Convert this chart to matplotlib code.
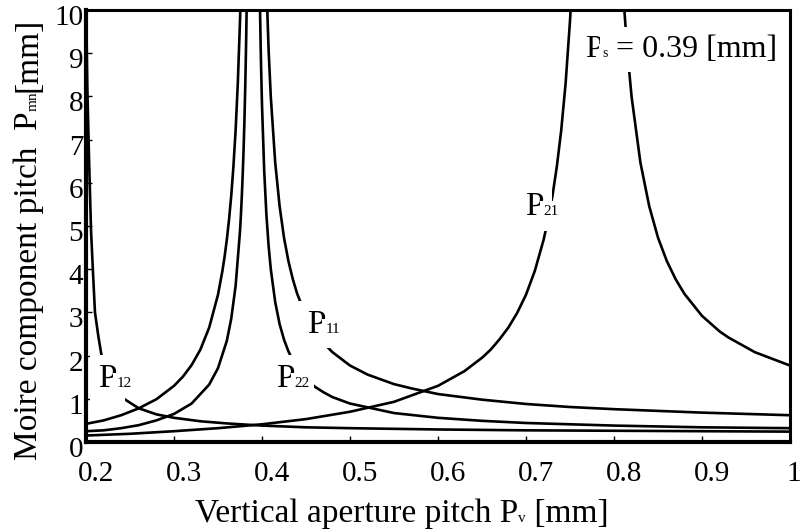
import matplotlib
matplotlib.use("Agg")
import matplotlib.pyplot as plt
from matplotlib.transforms import ScaledTranslation

plt.rcParams['font.family'] = ['Liberation Serif', 'DejaVu Serif']

# ---- data ----
p11_left_x = [0.200, 0.220, 0.240, 0.260, 0.280, 0.300, 0.310, 0.320, 0.330, 0.340, 0.350, 0.355, 0.3575, 0.360,
              0.3625, 0.365, 0.3675, 0.370, 0.3725, 0.375, 0.3757]
p11_left_y = [0.42, 0.50, 0.62, 0.78, 0.99, 1.30, 1.51, 1.78, 2.14, 2.65, 3.41, 3.96, 4.29, 4.68,
              5.14, 5.69, 6.37, 7.21, 8.30, 9.75, 10.25]
p11_right_x = [0.4055, 0.4075, 0.410, 0.415, 0.420, 0.425, 0.430, 0.435, 0.440, 0.450, 0.460, 0.470, 0.480, 0.500,
               0.520, 0.550, 0.570, 0.600, 0.650, 0.700, 0.750, 0.800, 0.850, 0.900, 0.950, 1.000]
p11_right_y = [10.3, 9.08, 7.99, 6.47, 5.46, 4.73, 4.19, 3.77, 3.43, 2.92, 2.56, 2.29, 2.08, 1.77,
               1.56, 1.34, 1.24, 1.11, 0.98, 0.88, 0.81, 0.76, 0.72, 0.68, 0.65, 0.62]

p22_left_x = [0.200, 0.220, 0.240, 0.260, 0.280, 0.300, 0.320, 0.340, 0.350, 0.360, 0.365, 0.370, 0.375, 0.376,
              0.377, 0.378, 0.379, 0.380, 0.381, 0.382, 0.3826]
p22_left_y = [0.25, 0.27, 0.32, 0.39, 0.50, 0.65, 0.89, 1.33, 1.71, 2.34, 2.85, 3.61, 4.88, 5.24,
              5.66, 6.15, 6.72, 7.41, 8.25, 9.30, 10.1]
p22_right_x = [0.3975, 0.3985, 0.399, 0.400, 0.4025, 0.405, 0.4075, 0.410, 0.415, 0.420, 0.425, 0.430, 0.435,
               0.440, 0.450, 0.460, 0.470, 0.480, 0.500, 0.550, 0.600, 0.650, 0.700, 0.750, 0.800, 0.850,
               0.900, 0.950, 1.000]
p22_right_y = [10.3, 9.14, 8.65, 7.80, 6.28, 5.26, 4.54, 4.00, 3.24, 2.73, 2.37, 2.10, 1.89,
               1.72, 1.46, 1.28, 1.15, 1.04, 0.89, 0.67, 0.56, 0.49, 0.44, 0.41, 0.38, 0.36,
               0.34, 0.33, 0.32]

p21_left_x = [0.20, 0.25, 0.30, 0.35, 0.40, 0.45, 0.50, 0.55, 0.60, 0.63, 0.65, 0.66, 0.67, 0.68, 0.69, 0.70,
              0.71, 0.72, 0.725, 0.73, 0.735, 0.74, 0.745, 0.75, 0.752]
p21_left_y = [0.15, 0.19, 0.25, 0.32, 0.41, 0.53, 0.70, 0.93, 1.30, 1.64, 1.95, 2.14, 2.38, 2.65, 2.99, 3.41,
              3.96, 4.68, 5.14, 5.69, 6.37, 7.21, 8.30, 9.75, 10.45]
p21_right_x = [0.810, 0.815, 0.820, 0.830, 0.840, 0.850, 0.860, 0.870, 0.880, 0.900, 0.920, 0.930, 0.960, 1.000]
p21_right_y = [10.5, 9.08, 7.99, 6.47, 5.46, 4.73, 4.19, 3.77, 3.43, 2.92, 2.56, 2.42, 2.08, 1.77]

p12_x = [0.2000, 0.2015, 0.2034, 0.2057, 0.2080, 0.2102, 0.2140, 0.2170, 0.2200, 0.2300, 0.2400, 0.2600, 0.2800,
         0.3000, 0.3300, 0.3600, 0.4000, 0.4500, 0.5000, 0.6000, 0.7000, 0.8000, 0.9000, 1.0000]
p12_y = [10.3, 8.2, 6.6, 4.9, 3.9, 3.0, 2.45, 2.08, 1.75, 1.30, 1.04, 0.78, 0.64, 0.56, 0.48, 0.43, 0.38, 0.34,
         0.32, 0.29, 0.27, 0.26, 0.25, 0.24]

x_ticks = [0.2, 0.3, 0.4, 0.5, 0.6, 0.7, 0.8, 0.9, 1.0]
x_tick_labels = ["0.2", "0.3", "0.4", "0.5", "0.6", "0.7", "0.8", "0.9", "1"]
y_ticks = [0, 1, 2, 3, 4, 5, 6, 7, 8, 9, 10]
y_tick_labels = ["0", "1", "2", "3", "4", "5", "6", "7", "8", "9", "10"]

# curve labels: (main, subscript, x, y)
curve_labels = [("P", "12", 0.2136, 1.27),
                ("P", "22", 0.416, 1.27),
                ("P", "11", 0.451, 2.52),
                ("P", "21", 0.699, 5.25)]

# ---- figure ----
fig = plt.figure(figsize=(8.03, 5.31), dpi=100)
ax = fig.add_axes([86 / 803, 1 - 442 / 531, 704 / 803, 432 / 531])

lw = 1.9
for xs, ys in [(p11_left_x, p11_left_y), (p11_right_x, p11_right_y),
               (p22_left_x, p22_left_y), (p22_right_x, p22_right_y),
               (p21_left_x, p21_left_y), (p21_right_x, p21_right_y),
               (p12_x, p12_y)]:
    ax.plot(xs, ys, color='black', lw=lw, solid_capstyle='butt', solid_joinstyle='round', zorder=2)

ax.set_xlim(0.2, 1.0)
ax.set_ylim(0, 10)
ax.set_xticks(x_ticks)
ax.set_xticklabels(x_tick_labels)
ax.set_yticks(y_ticks)
ax.set_yticklabels(y_tick_labels)
ax.tick_params(axis='both', direction='in', length=4, width=1, labelsize=21, colors='black')
ax.tick_params(axis='x', pad=14)
ax.tick_params(axis='y', pad=2)

for side in ['left', 'bottom']:
    ax.spines[side].set_linewidth(3.0)
for side in ['top', 'right']:
    ax.spines[side].set_linewidth(2.2)

fig.canvas.draw()
xlabs = ax.get_xticklabels()
for i, lab in enumerate(xlabs):
    shift = 10 if i < len(xlabs) - 1 else 4
    lab.set_transform(lab.get_transform() + ScaledTranslation(shift / 100, 0, fig.dpi_scale_trans))
for lab in ax.get_yticklabels():
    lab.set_transform(lab.get_transform() + ScaledTranslation(0, -5 / 100, fig.dpi_scale_trans))

renderer = fig.canvas.get_renderer()


def chain_data(x, y, parts):
    """Draw text pieces one after another starting at data point (x, y)."""
    off = 0.0
    for s, size, is_sub in parts:
        box = dict(boxstyle='square,pad=0.25', fc='white', ec='none')
        t = ax.annotate(s, xy=(x, y), xycoords='data', xytext=(off, 0), textcoords='offset points',
                        fontsize=size, ha='left', va='baseline', bbox=box,
                        zorder=6 if is_sub else 5, annotation_clip=False)
        w = t.get_window_extent(renderer).width
        off += w * 72 / fig.dpi


for main, sub, lx, ly in curve_labels:
    chain_data(lx, ly, [(main, 24, False), (sub, 11, True)])

chain_data(0.767, 8.91, [("P", 23, False), ("s", 10, True), (" = 0.39 [mm]", 23, False)])


def chain_fig(x, y, parts, rotation=0):
    off = 0.0
    for s, size in parts:
        if rotation == 0:
            tr = fig.transFigure + ScaledTranslation(off / 72, 0, fig.dpi_scale_trans)
        else:
            tr = fig.transFigure + ScaledTranslation(0, off / 72, fig.dpi_scale_trans)
        t = fig.text(x, y, s, fontsize=size, ha='left', va='baseline', rotation=rotation,
                     rotation_mode='anchor', transform=tr)
        ext = t.get_window_extent(renderer)
        off += (ext.width if rotation == 0 else ext.height) * 72 / fig.dpi


# x axis label
chain_fig(195 / 803, 1 - 522 / 531, [("Vertical aperture pitch P", 24), ("v", 11), (" [mm]", 24)])
# y axis label
chain_fig(37 / 803, 1 - 460 / 531, [("Moire component pitch  P", 24), ("mn", 11), ("[mm]", 24)], rotation=90)

fig.savefig("out.png", dpi=100)
